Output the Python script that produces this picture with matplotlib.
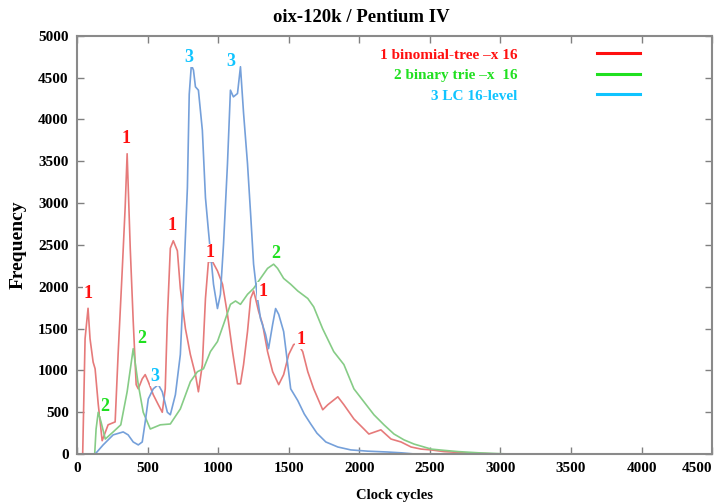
"""oix-120k / Pentium IV clock-cycle histogram."""
import matplotlib

matplotlib.use("Agg")
import matplotlib.pyplot as plt
from matplotlib.lines import Line2D

plt.rcParams["font.family"] = ["Liberation Serif", "DejaVu Serif"]
plt.rcParams["font.weight"] = "bold"

# binomial-tree -x 16
red_cycles = [0, 40, 57, 78, 92, 114, 128, 150, 178, 220, 270, 291, 320, 341, 355,
              377, 398, 419, 434, 462, 483, 505, 540, 576, 604, 625, 640, 661, 682,
              711, 732, 768, 803, 839, 860, 888, 910, 931, 960, 995, 1031, 1066, 1102,
              1137, 1158, 1180, 1208, 1230, 1251, 1265, 1286, 1315, 1350, 1386, 1429,
              1464, 1500, 1535, 1564, 1599, 1635, 1677, 1741, 1777, 1848, 1891, 1962,
              2033, 2068, 2153, 2225, 2296, 2367, 2438, 2509, 2600, 2700, 2800, 3000, 4500]
red_freq = [0, 0, 1380, 1743, 1380, 1100, 1020, 600, 160, 350, 385, 1190, 2190, 2950,
            3590, 2460, 1590, 830, 780, 900, 950, 865, 710, 590, 500, 780, 1620, 2460,
            2550, 2430, 1980, 1500, 1190, 950, 745, 1070, 1860, 2300, 2300, 2190, 2030,
            1670, 1225, 840, 840, 1070, 1465, 1860, 1950, 1860, 1710, 1550, 1225, 985,
            830, 950, 1190, 1310, 1320, 1225, 985, 780, 530, 590, 685, 590, 420, 300,
            240, 290, 180, 145, 85, 60, 50, 30, 20, 10, 0, 0]

# binary trie -x 16
green_cycles = [0, 125, 135, 150, 170, 200, 256, 310, 355, 398, 434, 469, 519, 590,
                661, 732, 803, 853, 896, 945, 995, 1038, 1087, 1123, 1158, 1208, 1251,
                1300, 1350, 1393, 1421, 1464, 1514, 1564, 1635, 1677, 1740, 1819, 1891,
                1962, 2033, 2104, 2175, 2246, 2317, 2388, 2459, 2509, 2600, 2700, 2850,
                3000, 3100, 4500]
green_freq = [0, 0, 300, 500, 385, 180, 265, 350, 745, 1260, 830, 500, 300, 350, 360,
              540, 865, 985, 1020, 1225, 1345, 1550, 1790, 1830, 1790, 1910, 1980, 2100,
              2220, 2270, 2220, 2100, 2030, 1950, 1860, 1760, 1500, 1225, 1070, 780, 625,
              470, 350, 240, 170, 120, 85, 60, 45, 30, 15, 5, 0, 0]

# LC 16-level
blue_cycles = [0, 128, 185, 256, 327, 362, 398, 434, 462, 483, 505, 540, 576, 604, 640,
               661, 697, 732, 753, 782, 795, 810, 825, 839, 860, 888, 910, 931, 967, 995,
               1016, 1038, 1066, 1087, 1108, 1137, 1158, 1180, 1208, 1230, 1251, 1279,
               1300, 1336, 1357, 1386, 1407, 1429, 1464, 1493, 1514, 1564, 1610, 1656,
               1700, 1763, 1848, 1940, 2061, 2200, 2300, 2400, 4500]
blue_freq = [0, 0, 110, 230, 265, 230, 145, 110, 145, 385, 660, 780, 830, 745, 500, 470,
             710, 1190, 1980, 3185, 4300, 4650, 4590, 4390, 4350, 3870, 3065, 2670, 2030,
             1740, 1910, 2510, 3470, 4350, 4270, 4310, 4630, 4075, 3470, 2870, 2270, 1860,
             1620, 1430, 1260, 1550, 1740, 1670, 1465, 1070, 780, 640, 480, 360, 250, 145,
             85, 50, 35, 25, 15, 0, 0]

series_labels = ["1 binomial-tree \u2013x 16", "2 binary trie \u2013x  16", "3 LC 16-level"]
line_colors = ["#e67a7a", "#86cc86", "#75a0da"]
key_colors = ["#ff1010", "#20e020", "#10c4ff"]

# curve number tags: (cycles, frequency, tag, series index)
tag_cycles = [78, 348, 675, 945, 1315, 1585, 199, 462, 1407, 554, 789, 1087]
tag_freq = [1923, 3774, 2728, 2404, 1947, 1370, 565, 1382, 2392, 925, 4736, 4688]
tag_text = ["1", "1", "1", "1", "1", "1", "2", "2", "2", "3", "3", "3"]
tag_series = [0, 0, 0, 0, 0, 0, 1, 1, 1, 2, 2, 2]

fig = plt.figure(figsize=(7.2, 5.04), dpi=100)
ax = fig.add_axes([0.107, 0.099, 0.882, 0.830])

for xs, ys, color in zip([red_cycles, green_cycles, blue_cycles],
                         [red_freq, green_freq, blue_freq], line_colors):
    ax.plot(xs, ys, color=color, lw=1.2)

for x, y, t, s in zip(tag_cycles, tag_freq, tag_text, tag_series):
    ax.text(x, y, t, color=key_colors[s], fontsize=13, fontweight="bold",
            ha="center", va="center",
            bbox=dict(fc="white", ec="none", pad=0.5))

ax.set_xlim(0, 4500)
ax.set_ylim(0, 5000)
ax.set_xticks(range(0, 4501, 500))
ax.set_yticks(range(0, 5001, 500))
ax.tick_params(direction="in", top=True, right=True, length=5, width=1,
               color="#808080", labelsize=11, pad=6)
ax.get_xticklabels()[-1].set_horizontalalignment("right")
for spine in ax.spines.values():
    spine.set_color("#8a8a8a")
    spine.set_linewidth(1.5)

ax.set_xlabel("Clock cycles", fontsize=10.5, fontweight="bold", labelpad=10)
ax.set_ylabel("Frequency", fontsize=14, fontweight="bold", labelpad=8)
fig.text(0.502, 0.966, "oix-120k / Pentium IV", ha="center", va="center",
         fontsize=13.5, fontweight="bold")

handles = [Line2D([], [], color=c, lw=2.2) for c in key_colors]
leg = ax.legend(handles, series_labels, loc="upper right", markerfirst=False,
                frameon=False, bbox_to_anchor=(640 / 720, 456 / 504),
                bbox_transform=fig.transFigure, borderpad=0, borderaxespad=0,
                handlelength=2.8, handletextpad=5.2, labelspacing=0.45,
                prop={"weight": "bold", "size": 11})
for text, c in zip(leg.get_texts(), key_colors):
    text.set_color(c)

fig.savefig("out.png", dpi=100)
